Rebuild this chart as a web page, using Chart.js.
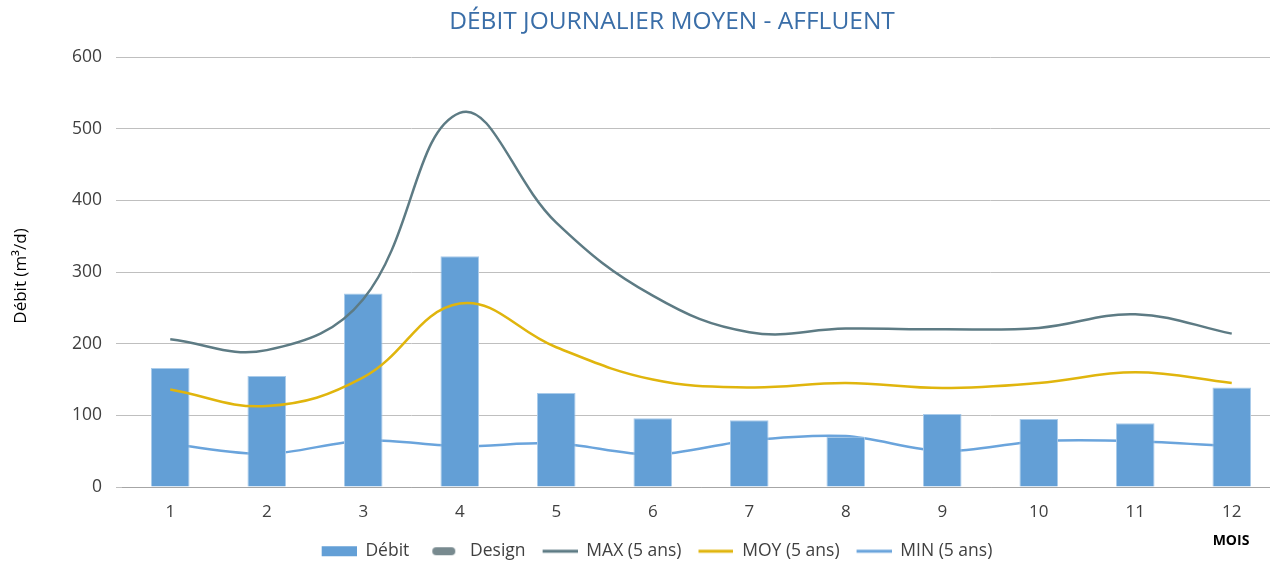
<!DOCTYPE html>
<html>
<head>
<meta charset="utf-8">
<script src="https://cdn.jsdelivr.net/npm/chart.js@4.4.0/dist/chart.umd.min.js"></script>
<style>
  html, body { margin: 0; padding: 0; background: #fff; overflow: hidden; }
  .chart-wrap { position: relative; width: 1280px; height: 570px; }
</style>
</head>
<body>
<div class="chart-wrap">
  <canvas id="debitChart" width="1280" height="570"></canvas>
</div>
<script>
const mois = ['1', '2', '3', '4', '5', '6', '7', '8', '9', '10', '11', '12'];
const debit = [166, 155, 270, 322, 131, 96, 93, 70, 102, 95, 89, 139];
const design = [null, null, null, null, null, null, null, null, null, null, null, null];
const max5ans = [206, 191, 262, 522, 369, 267, 216, 221, 220, 222, 241, 214];
const moy5ans = [136, 113, 153, 256, 195, 150, 139, 145, 138, 145, 160, 145];
const min5ans = [60, 46, 65, 57, 61, 45, 65, 71, 50, 64, 64, 57];
const yTicks = [0, 100, 200, 300, 400, 500, 600];

const FONT = '"Open Sans", sans-serif';
const TEXT = '#404040';
const ICON_W = 51;

// legend icons: transparent gap on the left, 35px marker on the right
function makeIcon(kind, color) {
  const cv = document.createElement('canvas');
  cv.width = ICON_W;
  cv.height = 12;
  const c = cv.getContext('2d');
  const x0 = ICON_W - 35;
  if (kind === 'rect') {
    c.fillStyle = color;
    c.fillRect(x0, 1, 35, 10);
  } else if (kind === 'pill') {
    c.strokeStyle = color;
    c.lineWidth = 8;
    c.lineCap = 'round';
    c.beginPath();
    c.moveTo(x0 + 10, 6);
    c.lineTo(x0 + 25, 6);
    c.stroke();
  } else {
    c.strokeStyle = color;
    c.lineWidth = 3;
    c.beginPath();
    c.moveTo(x0, 6);
    c.lineTo(ICON_W, 6);
    c.stroke();
  }
  return cv;
}

const extraText = {
  id: 'extraText',
  afterDraw(chart) {
    const ctx = chart.ctx;
    ctx.save();
    ctx.textAlign = 'center';
    ctx.textBaseline = 'middle';
    ctx.fillStyle = '#3a6ea8';
    ctx.font = '24.5px ' + FONT;
    ctx.fillText('DÉBIT JOURNALIER MOYEN - AFFLUENT', 672, 22);
    ctx.fillStyle = '#000';
    ctx.font = 'bold 14px ' + FONT;
    ctx.fillText('MOIS', 1231, 541);
    ctx.translate(21, 276);
    ctx.rotate(-Math.PI / 2);
    ctx.font = '17px ' + FONT;
    ctx.fillText('Débit (m³/d)', 0, 0);
    ctx.restore();
  }
};

const ctx = document.getElementById('debitChart').getContext('2d');
new Chart(ctx, {
  type: 'bar',
  data: {
    labels: mois,
    datasets: [
      {
        type: 'bar',
        label: 'Débit',
        data: debit,
        backgroundColor: '#639fd6',
        borderColor: '#a9cbea',
        borderWidth: 1,
        barPercentage: 0.4,
        categoryPercentage: 1,
        order: 2
      },
      {
        type: 'line',
        label: 'Design',
        data: design,
        borderColor: '#788a8f',
        borderWidth: 7,
        pointRadius: 0,
        order: 1
      },
      {
        type: 'line',
        label: 'MAX (5 ans)',
        data: max5ans,
        borderColor: '#5d7b84',
        borderWidth: 2.5,
        tension: 0.4,
        pointRadius: 0,
        order: 1
      },
      {
        type: 'line',
        label: 'MOY (5 ans)',
        data: moy5ans,
        borderColor: '#e0b50d',
        borderWidth: 2.5,
        tension: 0.4,
        pointRadius: 0,
        order: 1
      },
      {
        type: 'line',
        label: 'MIN (5 ans)',
        data: min5ans,
        borderColor: '#6aa4dc',
        borderWidth: 2.5,
        tension: 0.3,
        pointRadius: 0,
        order: 3
      }
    ]
  },
  options: {
    responsive: false,
    animation: false,
    layout: { padding: { top: 57, bottom: 0, left: 18 } },
    plugins: {
      title: { display: false },
      tooltip: { enabled: false },
      legend: {
        position: 'bottom',
        labels: {
          color: TEXT,
          font: { family: FONT, size: 17.5 },
          usePointStyle: true,
          pointStyleWidth: ICON_W,
          boxHeight: 10,
          padding: 1,
          generateLabels(chart) {
            return chart.data.datasets.map((ds, i) => {
              const isBar = ds.type === 'bar';
              const kind = isBar ? 'rect' : (ds.label === 'Design' ? 'pill' : 'line');
              const color = isBar ? ds.backgroundColor : ds.borderColor;
              return {
                text: ds.label,
                datasetIndex: i,
                fillStyle: color,
                strokeStyle: color,
                lineWidth: 0,
                pointStyle: makeIcon(kind, color),
                fontColor: TEXT,
                hidden: false
              };
            });
          }
        }
      }
    },
    scales: {
      x: {
        grid: { display: false },
        border: { display: true, color: '#a6a6a6', width: 1 },
        ticks: { color: TEXT, font: { family: FONT, size: 17 }, padding: 7 },
        afterFit(scale) { scale.height = 54.5; }
      },
      y: {
        min: 0,
        max: 600,
        afterBuildTicks(scale) { scale.ticks = yTicks.map(v => ({ value: v })); },
        grid: { color: '#bfbfbf', lineWidth: 1, tickLength: 6 },
        border: { display: false },
        ticks: { color: TEXT, font: { family: FONT, size: 17.5 }, padding: 14 },
        afterFit(scale) { scale.width = 104; }
      }
    }
  },
  plugins: [extraText]
});
</script>
</body>
</html>
